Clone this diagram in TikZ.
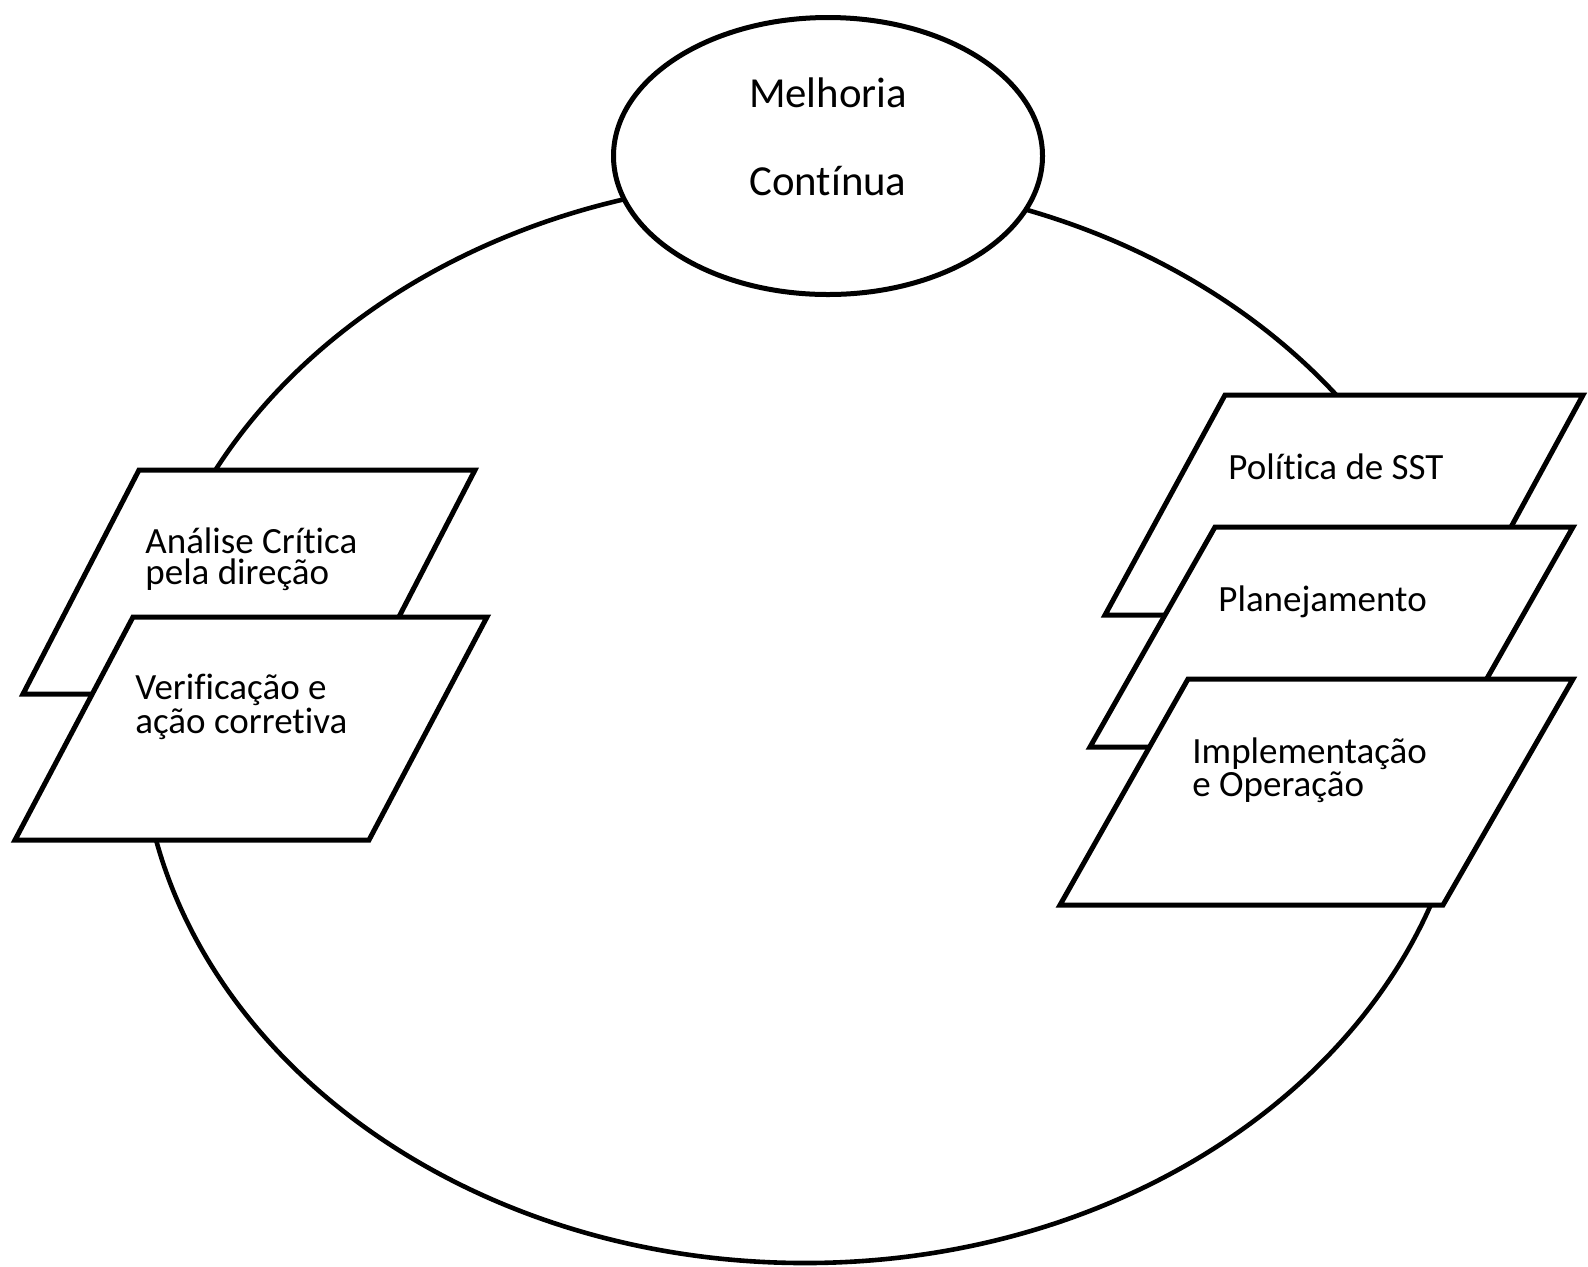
\documentclass[tikz,border=0pt]{standalone}
\usepackage{fontspec}
\setmainfont{Carlito}[Ligatures=NoCommon]
\begin{document}
\begin{tikzpicture}[x=0.5pt,y=-0.5pt]
\useasboundingbox[fill=white] (0,0) rectangle (1588,1266);
\tikzset{
  ring/.style={draw, line width=2.3pt},
  para/.style={draw, fill=white, line width=2.5pt, line join=miter},
  lbl/.style={anchor=base west, inner sep=0pt, align=left, font=\fontsize{18.5}{15.2}\selectfont},
  title/.style={anchor=base, inner sep=0pt, align=center, font=\fontsize{21.4}{44}\selectfont},
}
% big cycle
\draw[ring] (805,721) ellipse [x radius=665, y radius=542];
% top ellipse
\draw[ring, line width=2.5pt, fill=white] (828,156) ellipse [x radius=214.5, y radius=138.5];
\node[title] (mc) at (828,195) {Melhoria\\Contínua};
% left boxes
\draw[para] (139,470) -- (475,470) -- (359,694) -- (23,694) -- cycle;
\node[lbl] (ac) at (145,584) {Análise Crítica\\pela direção};
\draw[para] (133,617) -- (487,617) -- (369,840) -- (15,840) -- cycle;
\node[lbl] (vc) at (135,733) {Verificação e\\ação corretiva};
% right boxes
\draw[para] (1225,395) -- (1583,395) -- (1463,615) -- (1105,615) -- cycle;
\node[lbl] (ps) at (1228,479) {Política de SST};
\draw[para] (1215,527) -- (1573,527) -- (1448,747) -- (1090,747) -- cycle;
\node[lbl] (pl) at (1218,611) {Planejamento};
\draw[para] (1188,679) -- (1573,679) -- (1443,905) -- (1060,905) -- cycle;
\node[lbl] (io) at (1192,796) {Implementação\\e Operação};
\end{tikzpicture}
\end{document}
